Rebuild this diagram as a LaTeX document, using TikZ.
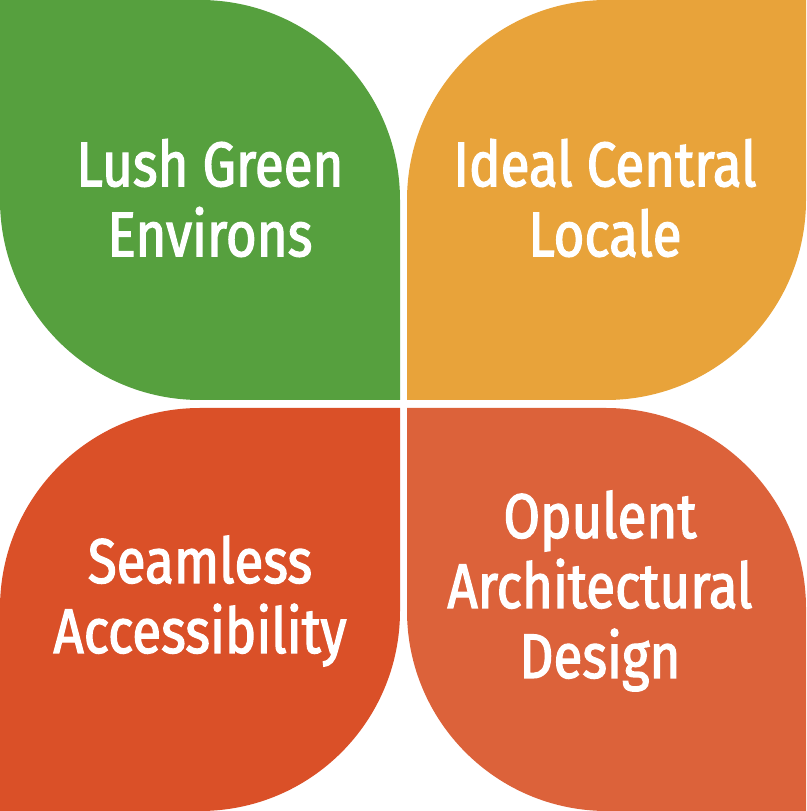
\documentclass[tikz,border=0pt]{standalone}
\usepackage{fontspec}
\setmainfont{Fira Sans}[FakeStretch=0.84,FakeBold=2]
\definecolor{leafgreen}{RGB}{86,160,62}
\definecolor{leaforange}{RGB}{232,163,58}
\definecolor{leafred}{RGB}{218,80,40}
\definecolor{leafrust}{RGB}{220,98,58}
\tikzset{
  leaf/.style={draw=none},
  leaftext/.style={text=white, align=center, font=\fontsize{63}{70}\selectfont}
}
\begin{document}
\begin{tikzpicture}[x=1pt,y=1pt]
\def\r{200}
\useasboundingbox (0,0) rectangle (806,811);

% top row
\fill[leafgreen] (0,811) -- (200,811) arc(90:0:\r) -- (400,411) -- (200,411) arc(270:180:\r) -- cycle;
\fill[leaforange] (806,811) -- (806,611) arc(0:-90:\r) -- (407,411) -- (407,611) arc(180:90:\r) -- cycle;

% bottom row
\fill[leafred] (0,0) -- (200,0) arc(-90:0:\r) -- (400,403) -- (200,403) arc(90:180:\r) -- cycle;
\fill[leafrust] (806,0) -- (806,203) arc(0:90:\r) -- (407,403) -- (407,200) arc(180:270:\r) -- cycle;

\node[leaftext] (lush) at (210,613) {Lush Green\\Environs};
\node[leaftext] (ideal) at (605,613) {Ideal Central\\Locale};
\node[leaftext] (seamless) at (200,210) {Seamless\\Accessibility};
\node[leaftext] (opulent) at (600,220) {Opulent\\Architectural\\Design};
\end{tikzpicture}
\end{document}
